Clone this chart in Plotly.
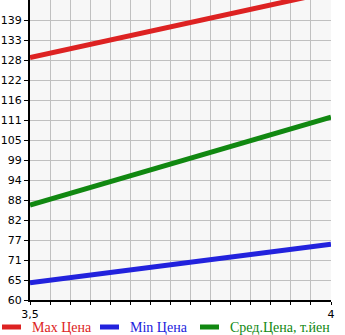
import plotly.graph_objects as go

# Data
x_vals = [3.5, 4.0]
max_price = [127.9, 146.3]
min_price = [64.8, 75.6]
avg_price = [86.6, 111.2]

series_names = ["Max Цена", "Min Цена", "Сред.Цена, т.йен"]
series_colors = ["#dd2222", "#2222dd", "#118811"]

y_tick_text = ["60", "65", "71", "77", "82", "88", "94", "99", "105", "111",
               "116", "122", "128", "133", "139"]
y_start = 60.0
y_step = 5.6
x_tick_text = ["3,5", "4"]

y_tick_vals = [y_start + i * y_step for i in range(len(y_tick_text))]
y_top = y_start + len(y_tick_text) * y_step

W, H = 345, 335
ML, MR, MT, MB = 30, 14, 0, 35
PW, PH = W - ML - MR, H - MT - MB


def px_x(p):
    return (p - ML) / PW


def px_y(p):
    return (H - MB - p) / PH


fig = go.Figure()
for vals, name, col in zip([max_price, min_price, avg_price], series_names, series_colors):
    fig.add_trace(go.Scatter(
        x=x_vals, y=vals, mode="lines",
        line=dict(color=col, width=5),
        name=name, showlegend=False,
    ))

# Custom legend (layout only)
legend_starts = [0, 98, 198]
legend_y = 327
for start, name, col in zip(legend_starts, series_names, series_colors):
    fig.add_shape(type="line", xref="paper", yref="paper",
                  x0=px_x(start + 2), x1=px_x(start + 21),
                  y0=px_y(legend_y), y1=px_y(legend_y),
                  line=dict(color=col, width=5))
    fig.add_annotation(xref="paper", yref="paper", x=px_x(start + 30),
                       y=px_y(legend_y), xanchor="left", yanchor="middle",
                       text=name, showarrow=False,
                       font=dict(family="Liberation Serif", size=14, color=col))

n_minor = 15
x_grid = [3.5 + i * 0.5 / n_minor for i in range(n_minor + 1)]

fig.update_layout(
    width=W, height=H,
    margin=dict(l=ML, r=MR, t=MT, b=MB, autoexpand=False),
    paper_bgcolor="white",
    plot_bgcolor="#f7f7f7",
    separators=", ",
    showlegend=False,
    xaxis=dict(
        range=[3.5, 4.0],
        tickvals=x_grid,
        ticktext=[x_tick_text[0]] + [""] * (n_minor - 1) + [x_tick_text[1]],
        showgrid=True, gridcolor="#c0c0c0", gridwidth=1,
        ticks="outside", ticklen=3, tickcolor="black",
        showline=True, linecolor="black", linewidth=2,
        zeroline=False,
        tickfont=dict(family="DejaVu Sans", size=11, color="black"),
    ),
    yaxis=dict(
        range=[y_start, y_top],
        tickvals=y_tick_vals,
        ticktext=y_tick_text,
        showgrid=True, gridcolor="#c0c0c0", gridwidth=1,
        ticks="outside", ticklen=4, tickcolor="black",
        showline=True, linecolor="black", linewidth=2,
        zeroline=False,
        tickfont=dict(family="DejaVu Sans", size=11, color="black"),
    ),
)

fig.write_html("out.html")
